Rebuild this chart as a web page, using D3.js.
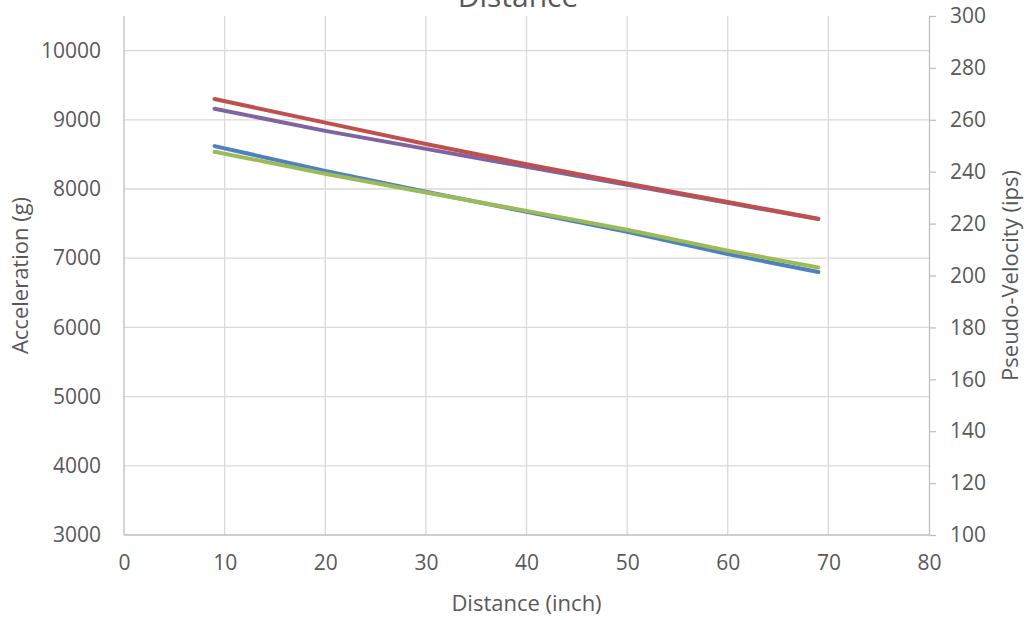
<!DOCTYPE html>
<html>
<head>
<meta charset="utf-8">
<script src="https://cdn.jsdelivr.net/npm/d3@7/dist/d3.min.js"></script>
<style>
  html, body { margin: 0; padding: 0; background: #fff; }
  svg { display: block; }
  text { font-family: "Open Sans", "Noto Sans", sans-serif; fill: #595959; }
</style>
</head>
<body>
<svg id="chart" width="1027" height="620"></svg>
<script>
// ---- data ----
const distances = [9, 20, 30, 40, 50, 60, 69];
// Acceleration series (primary axis, g)
const accelBlue   = [8620, 8260, 7960, 7670, 7380, 7060, 6800];
const accelPurple = [9160, 8840, 8580, 8320, 8060, 7800, 7565];
// Pseudo-velocity series (secondary axis, ips)
const velRed   = [268.0, 258.9, 250.7, 242.9, 235.5, 228.3, 221.9];
const velGreen = [247.7, 239.2, 232.0, 224.9, 217.6, 209.6, 203.1];

const xTicks = [0, 10, 20, 30, 40, 50, 60, 70, 80];
const leftTicks = [3000, 4000, 5000, 6000, 7000, 8000, 9000, 10000];
const rightTicks = [100, 120, 140, 160, 180, 200, 220, 240, 260, 280, 300];

const titleText = "Distance";
const xTitle = "Distance (inch)";
const yLeftTitle = "Acceleration (g)";
const yRightTitle = "Pseudo-Velocity (ips)";

// ---- layout ----
const svg = d3.select("#chart");
const L = 124, R = 929, T = 16, B = 535;

const x = d3.scaleLinear().domain([0, 80]).range([L, R]);
const yL = d3.scaleLinear().domain([3000, 10500]).range([B, T]);
const yR = d3.scaleLinear().domain([100, 300]).range([B, T]);

const gridColor = "#d9d9d9";
const axisColor = "#bfbfbf";
const fmt = d3.format("d");

// gridlines
svg.append("g").selectAll("line.h").data(leftTicks.slice(1)).join("line")
  .attr("x1", L).attr("x2", R)
  .attr("y1", d => yL(d)).attr("y2", d => yL(d))
  .attr("stroke", gridColor).attr("stroke-width", 1.3);
svg.append("g").selectAll("line.v").data(xTicks.slice(1, -1)).join("line")
  .attr("x1", d => x(d)).attr("x2", d => x(d))
  .attr("y1", T).attr("y2", B)
  .attr("stroke", gridColor).attr("stroke-width", 1.3);

// axes lines
svg.append("line").attr("x1", L).attr("x2", L).attr("y1", T).attr("y2", B)
  .attr("stroke", axisColor).attr("stroke-width", 1.3);
svg.append("line").attr("x1", L).attr("x2", R).attr("y1", B).attr("y2", B)
  .attr("stroke", axisColor).attr("stroke-width", 1.3);

// right axis via d3
const rightAxis = d3.axisRight(yR).tickValues(rightTicks).tickFormat(fmt)
  .tickSize(7).tickPadding(14).tickSizeOuter(0);
const gR = svg.append("g").attr("transform", `translate(${R},0)`).call(rightAxis);
gR.select(".domain").attr("stroke", axisColor).attr("stroke-width", 1.3);
gR.selectAll(".tick line").attr("stroke", axisColor).attr("stroke-width", 1.3);
gR.selectAll(".tick text").attr("fill", "#595959").style("font-size", "21px")
  .style("font-family", '"Open Sans", sans-serif');

// left axis via d3 (labels only)
const leftAxis = d3.axisLeft(yL).tickValues(leftTicks).tickFormat(fmt).tickSize(0).tickPadding(23);
const gL = svg.append("g").attr("transform", `translate(${L},0)`).call(leftAxis);
gL.select(".domain").remove();
gL.selectAll(".tick text").attr("fill", "#595959").style("font-size", "21px")
  .style("font-family", '"Open Sans", sans-serif');

// bottom axis via d3 (labels only)
const bottomAxis = d3.axisBottom(x).tickValues(xTicks).tickFormat(fmt).tickSize(0).tickPadding(20);
const gB = svg.append("g").attr("transform", `translate(0,${B})`).call(bottomAxis);
gB.select(".domain").remove();
gB.selectAll(".tick text").attr("fill", "#595959").style("font-size", "21px")
  .style("font-family", '"Open Sans", sans-serif');

// lines
const lineL = d3.line().x((d, i) => x(distances[i])).y(d => yL(d));
const lineR = d3.line().x((d, i) => x(distances[i])).y(d => yR(d));
const series = [
  { vals: accelBlue, gen: lineL, color: "#4f81bd" },
  { vals: accelPurple, gen: lineL, color: "#8064a2" },
  { vals: velRed, gen: lineR, color: "#c0504d" },
  { vals: velGreen, gen: lineR, color: "#9bbb59" }
];
svg.append("g").selectAll("path").data(series).join("path")
  .attr("d", s => s.gen(s.vals))
  .attr("fill", "none")
  .attr("stroke", s => s.color)
  .attr("stroke-width", 4)
  .attr("stroke-linecap", "round")
  .attr("stroke-linejoin", "round");

// titles
svg.append("text").attr("x", 518).attr("y", 7).attr("text-anchor", "middle")
  .style("font-size", "30px").text(titleText);
svg.append("text").attr("x", (L + R) / 2).attr("y", 611).attr("text-anchor", "middle")
  .style("font-size", "22px").text(xTitle);
svg.append("text").attr("transform", `translate(28,${(T + B) / 2}) rotate(-90)`)
  .attr("text-anchor", "middle").style("font-size", "22px").text(yLeftTitle);
svg.append("text").attr("transform", `translate(1018,${(T + B) / 2}) rotate(-90)`)
  .attr("text-anchor", "middle").style("font-size", "22px").text(yRightTitle);
</script>
</body>
</html>
